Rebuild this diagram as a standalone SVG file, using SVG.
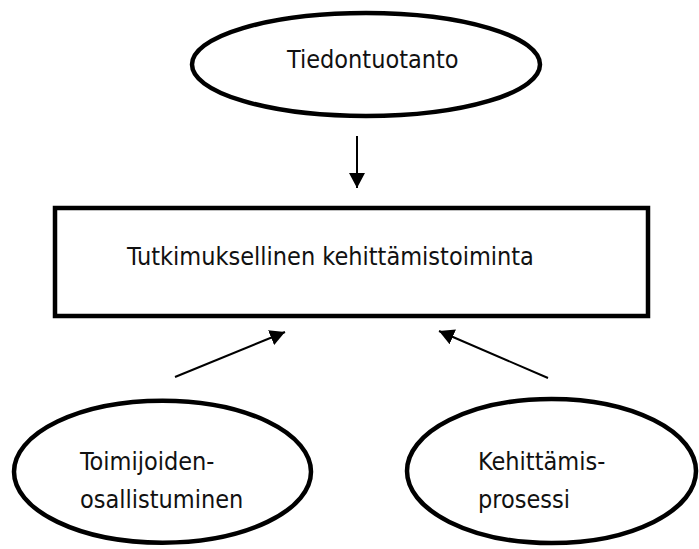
<svg xmlns="http://www.w3.org/2000/svg" width="699" height="549" viewBox="0 0 699 549">
<style>
.shape{fill:#fff;stroke:#000;stroke-width:4.5}
.lbl{font-family:"DejaVu Sans Condensed","DejaVu Sans",sans-serif;font-stretch:condensed;font-size:25px;fill:#111}
.conn{stroke:#000;stroke-width:2;fill:none}
</style>
<defs>
<marker id="ah" markerUnits="userSpaceOnUse" markerWidth="16" markerHeight="16" refX="15" refY="8" orient="auto">
<path d="M0,0 L15,8 L0,16 Z" fill="#000"/>
</marker>
</defs>
<rect width="699" height="549" fill="#fff"/>
<g id="connectors">
<line class="conn" x1="357" y1="136" x2="357" y2="188" marker-end="url(#ah)"/>
<line class="conn" x1="175" y1="377" x2="285" y2="332" marker-end="url(#ah)"/>
<line class="conn" x1="548" y1="378" x2="439" y2="331" marker-end="url(#ah)"/>
</g>
<g id="tiedontuotanto">
<ellipse class="shape" cx="366" cy="64.5" rx="174" ry="51.5"/>
<text class="lbl" x="287" y="68">Tiedontuotanto</text>
</g>
<g id="tutkimuksellinen">
<rect class="shape" x="55" y="208" width="593" height="108"/>
<text class="lbl" x="127" y="265">Tutkimuksellinen kehittämistoiminta</text>
</g>
<g id="toimijoiden">
<ellipse class="shape" cx="162.5" cy="471.7" rx="148.5" ry="71"/>
<text class="lbl" x="80" y="470">Toimijoiden-</text>
<text class="lbl" x="80" y="508">osallistuminen</text>
</g>
<g id="kehittamis">
<ellipse class="shape" cx="551.5" cy="471" rx="144.5" ry="72"/>
<text class="lbl" x="478" y="470">Kehittämis-</text>
<text class="lbl" x="478" y="508">prosessi</text>
</g>
</svg>
